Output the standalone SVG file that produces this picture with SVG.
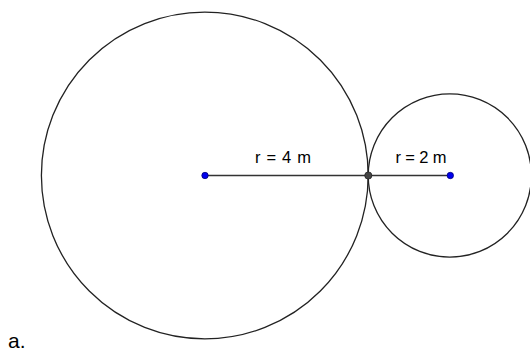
<svg xmlns="http://www.w3.org/2000/svg" width="530" height="352" viewBox="0 0 530 352">
<style>
.c{fill:none;stroke:#222;stroke-width:1.3}
.t{font-family:"Liberation Sans",Arial,sans-serif;fill:#000}
.p{fill:#0000ee;stroke:#00007a;stroke-width:0.8}
</style>
<rect width="530" height="352" fill="#fff"/>
<g id="bigCircle"><circle class="c" cx="204.8" cy="175.5" r="163.4"/></g>
<g id="smallCircle"><circle class="c" cx="449.8" cy="175.5" r="81.6"/></g>
<g id="connectors"><line x1="205" y1="175.5" x2="450" y2="175.5" stroke="#333" stroke-width="1.4"/></g>
<g id="centerBig"><circle class="p" cx="205" cy="175.5" r="3.2"/></g>
<g id="centerSmall"><circle class="p" cx="450.3" cy="175.5" r="3.2"/></g>
<g id="tangent"><circle cx="368.3" cy="175.5" r="3.6" fill="#444" stroke="#222" stroke-width="0.8"/></g>
<g id="labels">
<text class="t" x="255" y="163" font-size="16.5" textLength="56" lengthAdjust="spacing">r = 4 m</text>
<text class="t" x="395.5" y="163" font-size="16.5" textLength="51" lengthAdjust="spacing">r = 2 m</text>
<text class="t" x="8" y="348" font-size="21">a.</text>
</g>
</svg>
